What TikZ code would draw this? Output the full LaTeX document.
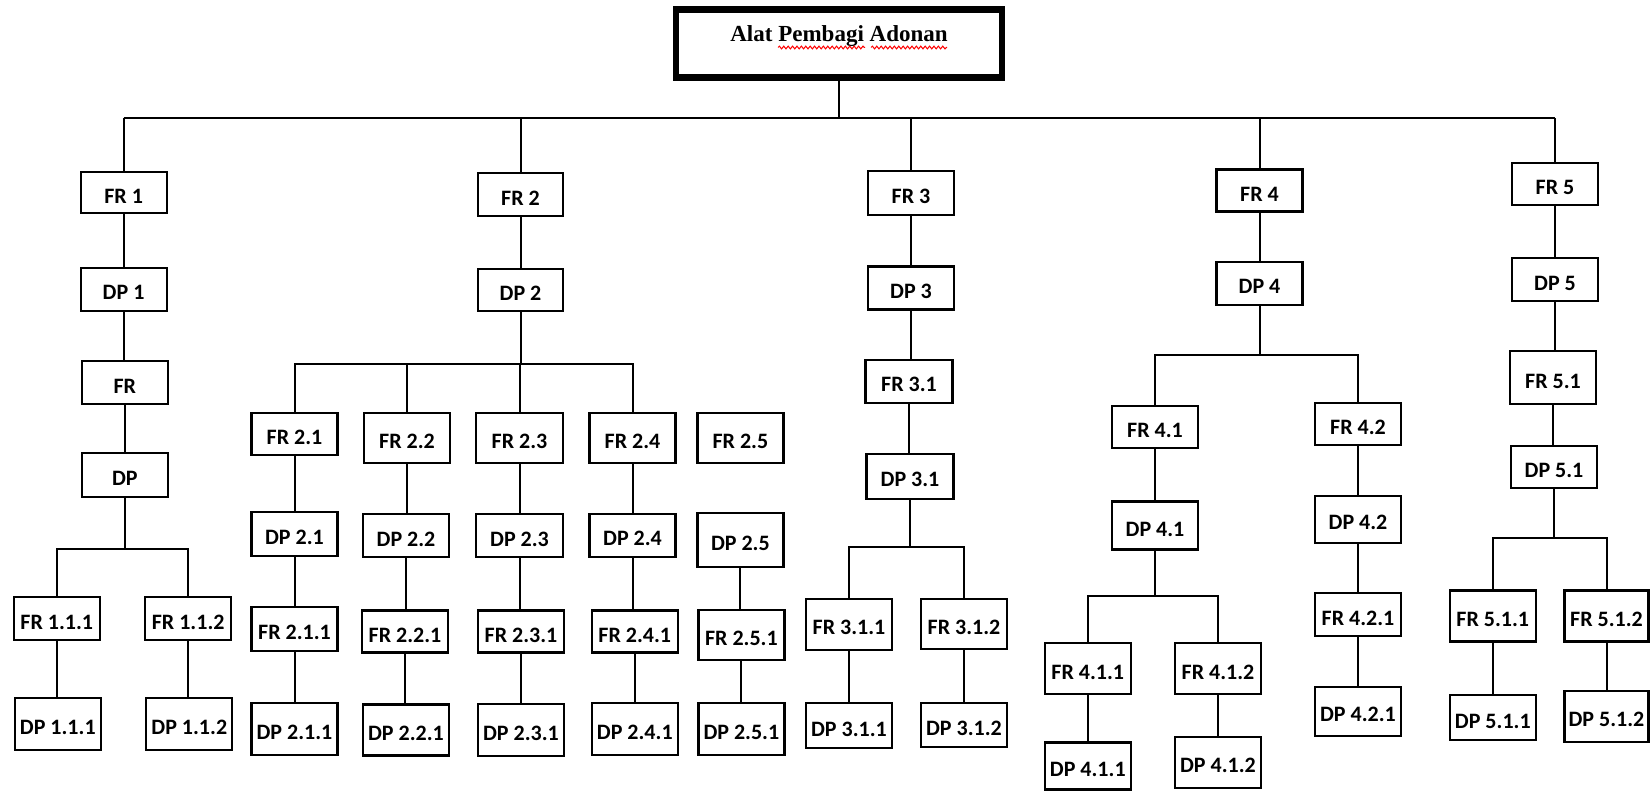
\documentclass[tikz,border=0pt]{standalone}
\usepackage{fontspec}
\setmainfont{Carlito}
\newfontfamily\titlefont{Liberation Serif}
\usetikzlibrary{decorations.pathmorphing}
\tikzset{
  box/.style={draw, line width=1.1pt, inner sep=0pt, text height=10.6pt, text depth=0pt, font=\fontsize{11}{13}\selectfont\bfseries, fill=white},
  conn/.style={line width=1pt},
  mainbar/.style={line width=1.4pt},
  squiggle/.style={red, line width=0.5pt, decorate, decoration={snake, amplitude=0.7pt, segment length=2.2pt}}
}
\newcommand\bx[6]{\node[box, minimum width=#4*0.5pt, minimum height=#5*0.5pt] (#1) at (#2,#3) {#6};}
\newcommand\vl[2]{\draw[conn] (#1.south) -- (#1.south |- #2.north);}
\begin{document}
\begin{tikzpicture}[x=0.5pt, y=-0.5pt]
\useasboundingbox (0,0) rectangle (1650,792);
% title
\node[draw, line width=3.2pt, minimum width=326*0.5pt, minimum height=68*0.5pt] (title) at (839,43.5) {};
\node[font=\titlefont\fontsize{11.5}{13}\selectfont\bfseries, anchor=base] (titletext) at (839,41.5) {Alat Pembagi Adonan};
\draw[squiggle] (778,47.5) -- (865,47.5);
\draw[squiggle] (871,47.5) -- (947,47.5);
\coordinate (topbar) at (838,118);

% column 1
\bx{FR1}{123.6}{192.8}{86}{41}{FR 1}
\bx{DP1}{123.6}{289.3}{86}{43}{DP 1}
\bx{FRa}{124.8}{382.7}{86}{43}{FR}
\bx{DPa}{124.8}{475}{86}{44}{DP}
\bx{FR111}{56.8}{618.7}{86}{43}{FR 1.1.1}
\bx{FR112}{188.2}{618.7}{86}{43}{FR 1.1.2}
\bx{DP111}{57.8}{723.8}{86}{52}{DP 1.1.1}
\bx{DP112}{189.3}{723.8}{86}{52}{DP 1.1.2}
\coordinate (b1) at (124.8,549.3);

% column 2
\bx{FR2}{520.5}{194.7}{85}{43}{FR 2}
\bx{DP2}{520.5}{290}{85}{42}{DP 2}
\bx{FR21}{294.5}{433.8}{86}{42}{FR 2.1}
\bx{FR22}{407}{438}{86}{50}{FR 2.2}
\bx{FR23}{519.5}{438}{87}{50}{FR 2.3}
\bx{FR24}{632.5}{438}{86}{50}{FR 2.4}
\bx{FR25}{740.4}{438}{86}{50}{FR 2.5}
\bx{DP21}{294.5}{533.7}{86}{44}{DP 2.1}
\bx{DP22}{406}{535.7}{86}{43}{DP 2.2}
\bx{DP23}{519.5}{535.7}{87}{43}{DP 2.3}
\bx{DP24}{632.5}{535.3}{86}{43}{DP 2.4}
\bx{DP25}{740.4}{539.7}{86}{54}{DP 2.5}
\bx{FR211}{294.5}{629}{86}{44}{FR 2.1.1}
\bx{FR221}{405}{631.5}{86}{42}{FR 2.2.1}
\bx{FR231}{521}{631.5}{86}{42}{FR 2.3.1}
\bx{FR241}{634.8}{631.5}{86}{42}{FR 2.4.1}
\bx{FR251}{741.4}{635.2}{86}{50}{FR 2.5.1}
\bx{DP211}{294.5}{729.3}{86}{52}{DP 2.1.1}
\bx{DP221}{406}{730}{86}{51}{DP 2.2.1}
\bx{DP231}{521}{729.7}{86}{52}{DP 2.3.1}
\bx{DP241}{634.8}{729.3}{86}{52}{DP 2.4.1}
\bx{DP251}{741.4}{729.3}{86}{52}{DP 2.5.1}
\coordinate (b2) at (520.5,364.3);

% column 3
\bx{FR3}{911}{193}{86}{44}{FR 3}
\bx{DP3}{911}{288}{86}{43}{DP 3}
\bx{FR31}{909}{381.2}{87}{43}{FR 3.1}
\bx{DP31}{910}{476.3}{87}{45}{DP 3.1}
\bx{FR311}{849}{624.3}{86}{51}{FR 3.1.1}
\bx{FR312}{964}{623.7}{86}{50}{FR 3.1.2}
\bx{DP311}{849}{725.7}{86}{45}{DP 3.1.1}
\bx{DP312}{964}{725.2}{86}{44}{DP 3.1.2}
\coordinate (b3) at (910,546.7);

% column 4
\bx{FR4}{1259.5}{190.5}{86}{42}{FR 4}
\bx{DP4}{1259.5}{283.3}{86}{43}{DP 4}
\bx{FR41}{1155}{427.2}{86}{42}{FR 4.1}
\bx{FR42}{1358}{424.3}{86}{42}{FR 4.2}
\bx{DP41}{1155}{525.5}{86}{48}{DP 4.1}
\bx{DP42}{1358}{519.3}{86}{47}{DP 4.2}
\bx{FR411}{1087.8}{668.8}{86}{51}{FR 4.1.1}
\bx{FR412}{1218}{668.8}{86}{51}{FR 4.1.2}
\bx{DP411}{1087.8}{766}{86}{47}{DP 4.1.1}
\bx{DP412}{1218}{762.2}{86}{51}{DP 4.1.2}
\bx{FR421}{1358}{614.7}{86}{43}{FR 4.2.1}
\bx{DP421}{1358}{711.3}{86}{49}{DP 4.2.1}
\coordinate (b4) at (1259.5,355);
\coordinate (b41) at (1155,596);

% column 5
\bx{FR5}{1555}{183.8}{86}{42}{FR 5}
\bx{DP5}{1555}{279.7}{86}{43}{DP 5}
\bx{FR51}{1553}{377.7}{86}{53}{FR 5.1}
\bx{DP51}{1554}{467.2}{86}{42}{DP 5.1}
\bx{FR511}{1492.8}{616}{86}{51}{FR 5.1.1}
\bx{FR512}{1606.5}{616}{84}{51}{FR 5.1.2}
\bx{DP511}{1492.8}{717.5}{86}{45}{DP 5.1.1}
\bx{DP512}{1606.5}{716.2}{84}{51}{DP 5.1.2}
\coordinate (b5) at (1554,538);

% top level connectors
\draw[conn] (title.south) -- (title.south |- topbar);
\draw[mainbar] (FR1.north |- topbar) -- (FR5.north |- topbar);
\foreach \n in {FR1,FR2,FR3,FR4,FR5} {\draw[conn] (\n.north) -- (\n.north |- topbar);}

% column 1 connectors
\vl{FR1}{DP1} \vl{DP1}{FRa} \vl{FRa}{DPa}
\draw[conn] (DPa.south) -- (b1);
\draw[conn] (FR111.north) -- (FR111.north |- b1) -- (FR112.north |- b1) -- (FR112.north);
\vl{FR111}{DP111} \vl{FR112}{DP112}

% column 2 connectors
\vl{FR2}{DP2}
\draw[conn] (DP2.south) -- (b2);
\draw[conn] (FR21.north) -- (FR21.north |- b2) -- (FR24.north |- b2) -- (FR24.north);
\draw[conn] (FR22.north) -- (FR22.north |- b2);
\draw[conn] (FR23.north) -- (FR23.north |- b2);
\vl{FR21}{DP21} \vl{FR22}{DP22} \vl{FR23}{DP23} \vl{FR24}{DP24}
\vl{DP21}{FR211} \vl{DP22}{FR221} \vl{DP23}{FR231} \vl{DP24}{FR241} \vl{DP25}{FR251}
\vl{FR211}{DP211} \vl{FR221}{DP221} \vl{FR231}{DP231} \vl{FR241}{DP241} \vl{FR251}{DP251}

% column 3 connectors
\vl{FR3}{DP3} \vl{DP3}{FR31} \vl{FR31}{DP31}
\draw[conn] (DP31.south) -- (b3);
\draw[conn] (FR311.north) -- (FR311.north |- b3) -- (FR312.north |- b3) -- (FR312.north);
\vl{FR311}{DP311} \vl{FR312}{DP312}

% column 4 connectors
\vl{FR4}{DP4}
\draw[conn] (DP4.south) -- (b4);
\draw[conn] (FR41.north) -- (FR41.north |- b4) -- (FR42.north |- b4) -- (FR42.north);
\vl{FR41}{DP41} \vl{FR42}{DP42}
\draw[conn] (DP41.south) -- (b41);
\draw[conn] (FR411.north) -- (FR411.north |- b41) -- (FR412.north |- b41) -- (FR412.north);
\vl{FR411}{DP411} \vl{FR412}{DP412}
\vl{DP42}{FR421} \vl{FR421}{DP421}

% column 5 connectors
\vl{FR5}{DP5} \vl{DP5}{FR51} \vl{FR51}{DP51}
\draw[conn] (DP51.south) -- (b5);
\draw[conn] (FR511.north) -- (FR511.north |- b5) -- (FR512.north |- b5) -- (FR512.north);
\vl{FR511}{DP511} \vl{FR512}{DP512}
\end{tikzpicture}
\end{document}
